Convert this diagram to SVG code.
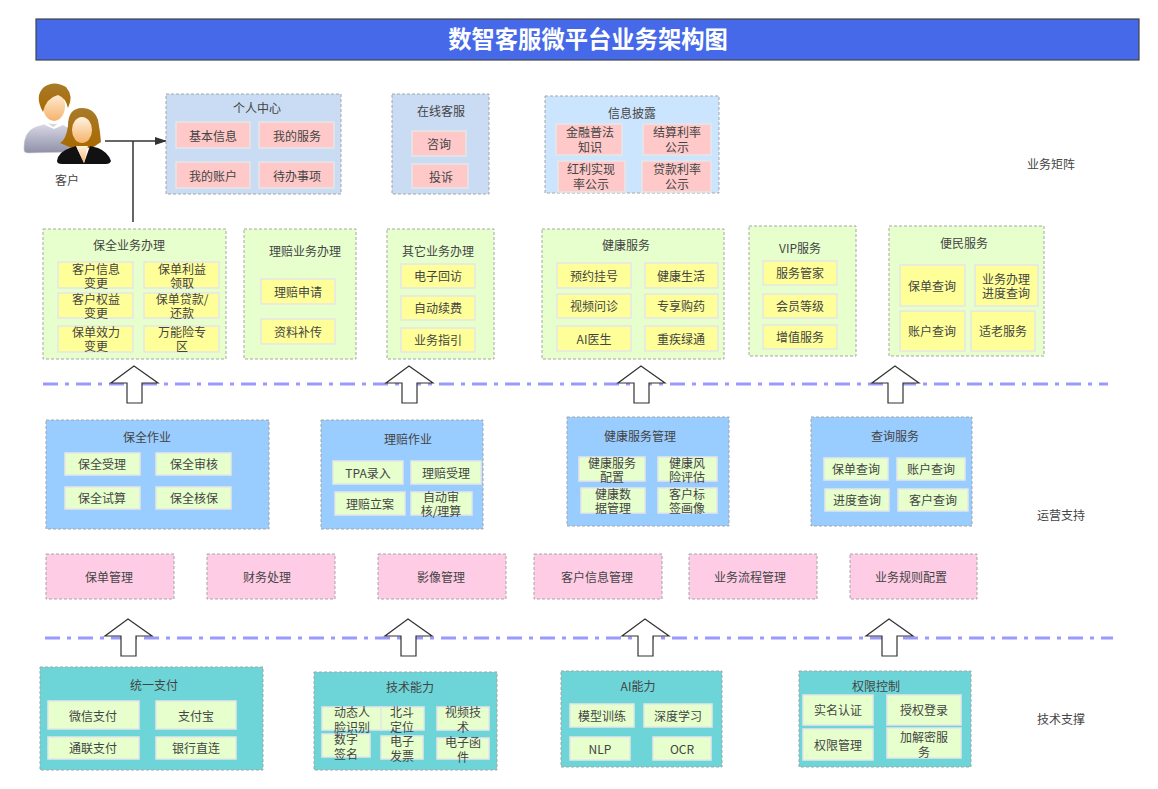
<svg xmlns="http://www.w3.org/2000/svg" width="1158" height="789" viewBox="0 0 1158 789">
<style>
text{font-family:"Noto Sans CJK SC","Liberation Sans",sans-serif;font-size:12px;fill:#444;text-anchor:middle;transform:translateY(1px)}
.g{stroke:#a6a6a6;stroke-dasharray:3 2;stroke-width:1}
.c{stroke:#e6e6e6;stroke-width:1.5}
.b1{fill:#c9dcf3}.b2{fill:#cce5ff}.gr{fill:#e6ffcc}.bl{fill:#99ccff}.te{fill:#6dd5d8}
.pk{fill:#ffc9c9}.ye{fill:#ffff99}.lg{fill:#e6ffcc}
.pn{fill:#ffcce6;stroke:#a6a6a6;stroke-dasharray:3 2;stroke-width:1}
.arrow{fill:#fff;stroke:#333;stroke-width:1.2}
.dl{fill:none;stroke:#9999ff;stroke-width:3;stroke-dasharray:15 7 4 7}
.ln{fill:none;stroke:#333;stroke-width:1.5}
</style>
<defs>
<linearGradient id="skin" x1="0" y1="0" x2="0" y2="1"><stop offset="0" stop-color="#fff3e0"/><stop offset="1" stop-color="#f6b26b"/></linearGradient>
<linearGradient id="shirt" x1="0" y1="0" x2="0" y2="1"><stop offset="0" stop-color="#d8d8e6"/><stop offset="1" stop-color="#8f8fa8"/></linearGradient>
<linearGradient id="hair" x1="0" y1="0" x2="0" y2="1"><stop offset="0" stop-color="#a87a2a"/><stop offset="1" stop-color="#a86a00"/></linearGradient>
<marker id="tri" markerWidth="12" markerHeight="8" refX="11" refY="4" orient="auto" markerUnits="userSpaceOnUse"><path d="M0 0L12 4L0 8z" fill="#333"/></marker>
</defs>

<g id="title"><rect x="36" y="19" width="1103" height="41" fill="#4569e8" stroke="#444" stroke-width="1.2"/><text x="588" y="47" style="font-size:23.3px;font-weight:700;fill:#fff">数智客服微平台业务架构图</text></g>

<g id="customer">
<path d="M24 150Q23 132 36 127L48 124L62 125L72 130L72 152L28 153Q24 153 24 150z" fill="url(#shirt)" stroke="#ccc" stroke-width=".6"/>
<ellipse cx="54" cy="106" rx="11" ry="15" fill="url(#skin)"/>
<path d="M46 122L53 127L61 122L63 125L54 129L45 125z" fill="#fff"/>
<path d="M43 112Q34 96 44 87Q54 80 66 87Q74 96 68 108Q66 98 58 95Q46 98 43 112z" fill="url(#hair)"/>
<path d="M82 108Q68 108 68 126Q66 140 60 143L72 148L92 148L101 142Q100 130 98 120Q94 108 82 108z" fill="url(#hair)"/>
<ellipse cx="82" cy="130" rx="10" ry="13" fill="url(#skin)"/>
<path d="M57 161Q58 152 70 148L76 146L84 163L90 146L98 148Q108 152 111 161Q110 164 106 164L62 164Q57 164 57 161z" fill="#111"/>
<path d="M76 146L88 146L84 163z" fill="url(#skin)"/>
<text x="67" y="184">客户</text>
</g>

<g id="connectors">
<path class="ln" d="M105 141H166" marker-end="url(#tri)"/>
<path class="ln" d="M133 141V222"/>
<path class="dl" d="M43 384H1108"/>
<path class="dl" d="M45 638H1113"/>
<path class="arrow" d="M134 366L158 383H142V403H127V383H111z"/>
<path class="arrow" d="M409 366L433 383H417V403H402V383H386z"/>
<path class="arrow" d="M641 366L665 383H649V403H634V383H618z"/>
<path class="arrow" d="M895 366L919 383H903V403H888V383H872z"/>
<path class="arrow" d="M128 619L152 636H136V656H121V636H105z"/>
<path class="arrow" d="M408 619L432 636H416V656H401V636H385z"/>
<path class="arrow" d="M645 619L669 636H653V656H638V636H622z"/>
<path class="arrow" d="M889 619L913 636H897V656H882V636H866z"/>
</g>

<g id="personal-center"><rect class="g b1" x="166" y="94" width="175" height="100"/><text x="257" y="112">个人中心</text>
<rect class="c pk" x="176" y="122" width="74" height="26"/><text x="213" y="140">基本信息</text>
<rect class="c pk" x="259" y="122" width="75" height="26"/><text x="297" y="140">我的服务</text>
<rect class="c pk" x="176" y="162" width="74" height="26"/><text x="213" y="180">我的账户</text>
<rect class="c pk" x="259" y="162" width="75" height="26"/><text x="297" y="180">待办事项</text></g>

<g id="online-service"><rect class="g b1" x="392" y="94" width="97" height="100"/><text x="441" y="115">在线客服</text>
<rect class="c pk" x="412" y="131" width="54" height="25"/><text x="439" y="148">咨询</text>
<rect class="c pk" x="412" y="164" width="56" height="24"/><text x="441" y="181">投诉</text></g>

<g id="disclosure"><rect class="g b2" x="545" y="96" width="174" height="97"/><text x="632" y="117">信息披露</text>
<rect class="c pk" x="556" y="124" width="66" height="31"/><text x="590" y="136"><tspan x="590">金融普法</tspan><tspan x="590" dy="15">知识</tspan></text>
<rect class="c pk" x="643" y="124" width="68" height="31"/><text x="677" y="136"><tspan x="677">结算利率</tspan><tspan x="677" dy="15">公示</tspan></text>
<rect class="c pk" x="558" y="161" width="67" height="31"/><text x="591" y="173"><tspan x="591">红利实现</tspan><tspan x="591" dy="15">率公示</tspan></text>
<rect class="c pk" x="642" y="161" width="69" height="31"/><text x="677" y="173"><tspan x="677">贷款利率</tspan><tspan x="677" dy="15">公示</tspan></text></g>

<g id="labels"><text x="1051" y="168">业务矩阵</text><text x="1061" y="519">运营支持</text><text x="1061" y="723">技术支撑</text></g>

<g id="preservation"><rect class="g gr" x="43" y="229" width="183" height="130"/><text x="129" y="249">保全业务办理</text>
<rect class="c ye" x="58" y="262" width="75" height="26"/><text x="96" y="273"><tspan x="96">客户信息</tspan><tspan x="96" dy="14.4">变更</tspan></text>
<rect class="c ye" x="144" y="262" width="75" height="26"/><text x="182" y="273"><tspan x="182">保单利益</tspan><tspan x="182" dy="14.4">领取</tspan></text>
<rect class="c ye" x="58" y="293" width="75" height="25"/><text x="96" y="303"><tspan x="96">客户权益</tspan><tspan x="96" dy="14.4">变更</tspan></text>
<rect class="c ye" x="144" y="293" width="75" height="25"/><text x="182" y="303"><tspan x="182">保单贷款/</tspan><tspan x="182" dy="14.4">还款</tspan></text>
<rect class="c ye" x="58" y="326" width="75" height="26"/><text x="96" y="336"><tspan x="96">保单效力</tspan><tspan x="96" dy="14.4">变更</tspan></text>
<rect class="c ye" x="144" y="326" width="75" height="26"/><text x="182" y="336"><tspan x="182">万能险专</tspan><tspan x="182" dy="14.4">区</tspan></text></g>

<g id="claims"><rect class="g gr" x="244" y="229" width="112" height="130"/><text x="305" y="255">理赔业务办理</text>
<rect class="c ye" x="261" y="279" width="74" height="25"/><text x="298" y="296">理赔申请</text>
<rect class="c ye" x="261" y="319" width="74" height="25"/><text x="298" y="336">资料补传</text></g>

<g id="other-business"><rect class="g gr" x="387" y="229" width="107" height="130"/><text x="438" y="255">其它业务办理</text>
<rect class="c ye" x="401" y="264" width="74" height="24"/><text x="438" y="280">电子回访</text>
<rect class="c ye" x="401" y="296" width="74" height="24"/><text x="438" y="312">自动续费</text>
<rect class="c ye" x="401" y="328" width="74" height="24"/><text x="438" y="344">业务指引</text></g>

<g id="health"><rect class="g gr" x="542" y="229" width="182" height="130"/><text x="626" y="249">健康服务</text>
<rect class="c ye" x="557" y="263" width="74" height="25"/><text x="594" y="280">预约挂号</text>
<rect class="c ye" x="645" y="263" width="73" height="25"/><text x="681" y="280">健康生活</text>
<rect class="c ye" x="557" y="294" width="74" height="24"/><text x="594" y="310">视频问诊</text>
<rect class="c ye" x="645" y="294" width="73" height="24"/><text x="681" y="310">专享购药</text>
<rect class="c ye" x="557" y="326" width="74" height="25"/><text x="594" y="343">AI医生</text>
<rect class="c ye" x="645" y="326" width="73" height="25"/><text x="681" y="343">重疾绿通</text></g>

<g id="vip"><rect class="g gr" x="749" y="226" width="107" height="130"/><text x="800" y="252">VIP服务</text>
<rect class="c ye" x="763" y="261" width="74" height="24"/><text x="800" y="277">服务管家</text>
<rect class="c ye" x="763" y="294" width="74" height="24"/><text x="800" y="310">会员等级</text>
<rect class="c ye" x="763" y="325" width="74" height="24"/><text x="800" y="341">增值服务</text></g>

<g id="convenience"><rect class="g gr" x="889" y="226" width="155" height="130"/><text x="964" y="247">便民服务</text>
<rect class="c ye" x="900" y="265" width="65" height="41"/><text x="932" y="290">保单查询</text>
<rect class="c ye" x="975" y="265" width="63" height="41"/><text x="1006" y="283"><tspan x="1006">业务办理</tspan><tspan x="1006" dy="14.4">进度查询</tspan></text>
<rect class="c ye" x="900" y="311" width="65" height="40"/><text x="932" y="335">账户查询</text>
<rect class="c ye" x="971" y="311" width="64" height="40"/><text x="1003" y="335">适老服务</text></g>

<g id="preservation-ops"><rect class="g bl" x="46" y="420" width="223" height="109"/><text x="147" y="441">保全作业</text>
<rect class="c lg" x="65" y="453" width="75" height="22"/><text x="102" y="468">保全受理</text>
<rect class="c lg" x="156" y="453" width="75" height="22"/><text x="194" y="468">保全审核</text>
<rect class="c lg" x="65" y="487" width="75" height="22"/><text x="102" y="502">保全试算</text>
<rect class="c lg" x="156" y="487" width="75" height="22"/><text x="194" y="502">保全核保</text></g>

<g id="claims-ops"><rect class="g bl" x="321" y="420" width="162" height="109"/><text x="408" y="443">理赔作业</text>
<rect class="c lg" x="333" y="461" width="70" height="23"/><text x="368" y="477">TPA录入</text>
<rect class="c lg" x="411" y="461" width="70" height="23"/><text x="446" y="477">理赔受理</text>
<rect class="c lg" x="335" y="492" width="70" height="23"/><text x="370" y="508">理赔立案</text>
<rect class="c lg" x="411" y="492" width="61" height="23"/><text x="441" y="501"><tspan x="441">自动审</tspan><tspan x="441" dy="14.4">核/理算</tspan></text></g>

<g id="health-ops"><rect class="g bl" x="567" y="417" width="162" height="109"/><text x="640" y="440">健康服务管理</text>
<rect class="c lg" x="579" y="457" width="66" height="24"/><text x="612" y="467"><tspan x="612">健康服务</tspan><tspan x="612" dy="14.4">配置</tspan></text>
<rect class="c lg" x="658" y="457" width="59" height="24"/><text x="687" y="467"><tspan x="687">健康风</tspan><tspan x="687" dy="14.4">险评估</tspan></text>
<rect class="c lg" x="581" y="488" width="64" height="25"/><text x="613" y="498"><tspan x="613">健康数</tspan><tspan x="613" dy="14.4">据管理</tspan></text>
<rect class="c lg" x="658" y="488" width="59" height="25"/><text x="687" y="498"><tspan x="687">客户标</tspan><tspan x="687" dy="14.4">签画像</tspan></text></g>

<g id="query"><rect class="g bl" x="811" y="417" width="161" height="109"/><text x="895" y="440">查询服务</text>
<rect class="c lg" x="824" y="458" width="64" height="22"/><text x="856" y="473">保单查询</text>
<rect class="c lg" x="897" y="458" width="68" height="22"/><text x="931" y="473">账户查询</text>
<rect class="c lg" x="825" y="489" width="64" height="22"/><text x="857" y="504">进度查询</text>
<rect class="c lg" x="898" y="489" width="70" height="22"/><text x="933" y="504">客户查询</text></g>

<g id="policy-mgmt"><rect class="pn" x="46" y="554" width="128" height="45"/><text x="109" y="581">保单管理</text></g>
<g id="finance"><rect class="pn" x="207" y="554" width="128" height="45"/><text x="267" y="581">财务处理</text></g>
<g id="image-mgmt"><rect class="pn" x="378" y="554" width="128" height="45"/><text x="441" y="581">影像管理</text></g>
<g id="customer-info"><rect class="pn" x="534" y="554" width="128" height="45"/><text x="597" y="581">客户信息管理</text></g>
<g id="workflow"><rect class="pn" x="689" y="554" width="128" height="45"/><text x="750" y="581">业务流程管理</text></g>
<g id="rules"><rect class="pn" x="850" y="554" width="127" height="45"/><text x="911" y="581">业务规则配置</text></g>

<g id="payment"><rect class="g te" x="40" y="667" width="223" height="103"/><text x="154" y="689">统一支付</text>
<rect class="c lg" x="48" y="701" width="91" height="28"/><text x="93" y="720">微信支付</text>
<rect class="c lg" x="156" y="701" width="80" height="28"/><text x="196" y="720">支付宝</text>
<rect class="c lg" x="48" y="737" width="91" height="22"/><text x="93" y="752">通联支付</text>
<rect class="c lg" x="156" y="737" width="80" height="22"/><text x="196" y="752">银行直连</text></g>

<g id="tech"><rect class="g te" x="314" y="672" width="183" height="98"/><text x="410" y="691">技术能力</text>
<rect class="c lg" x="322" y="707" width="59" height="23"/><text x="352" y="716"><tspan x="352">动态人</tspan><tspan x="352" dy="15">脸识别</tspan></text>
<rect class="c lg" x="381" y="707" width="43" height="23"/><text x="402" y="716"><tspan x="402">北斗</tspan><tspan x="402" dy="15">定位</tspan></text>
<rect class="c lg" x="437" y="707" width="52" height="23"/><text x="463" y="716"><tspan x="463">视频技</tspan><tspan x="463" dy="15">术</tspan></text>
<rect class="c lg" x="322" y="734" width="48" height="23"/><text x="346" y="743"><tspan x="346">数字</tspan><tspan x="346" dy="15">签名</tspan></text>
<rect class="c lg" x="381" y="736" width="42" height="23"/><text x="402" y="745"><tspan x="402">电子</tspan><tspan x="402" dy="15">发票</tspan></text>
<rect class="c lg" x="437" y="738" width="52" height="21"/><text x="463" y="746"><tspan x="463">电子函</tspan><tspan x="463" dy="15">件</tspan></text></g>

<g id="ai"><rect class="g te" x="561" y="671" width="161" height="96"/><text x="638" y="690">AI能力</text>
<rect class="c lg" x="570" y="704" width="64" height="23"/><text x="602" y="720">模型训练</text>
<rect class="c lg" x="644" y="704" width="68" height="23"/><text x="678" y="720">深度学习</text>
<rect class="c lg" x="570" y="737" width="60" height="23"/><text x="600" y="753">NLP</text>
<rect class="c lg" x="653" y="737" width="58" height="23"/><text x="682" y="753">OCR</text></g>

<g id="auth"><rect class="g te" x="799" y="671" width="172" height="96"/><text x="876" y="690">权限控制</text>
<rect class="c lg" x="803" y="695" width="70" height="30"/><text x="838" y="714">实名认证</text>
<rect class="c lg" x="887" y="695" width="74" height="30"/><text x="924" y="714">授权登录</text>
<rect class="c lg" x="803" y="729" width="70" height="31"/><text x="838" y="749">权限管理</text>
<rect class="c lg" x="887" y="728" width="74" height="30"/><text x="924" y="741"><tspan x="924">加解密服</tspan><tspan x="924" dy="15">务</tspan></text></g>
</svg>
